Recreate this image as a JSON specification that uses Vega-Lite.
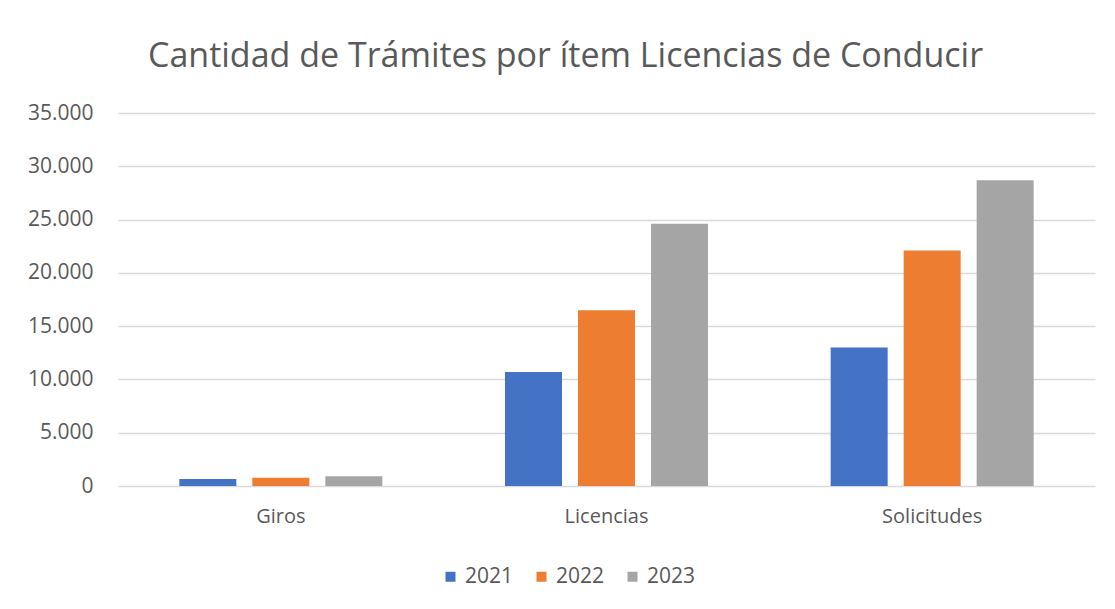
{
  "$schema": "https://vega.github.io/schema/vega-lite/v6.json",
  "autosize": {"type": "none"},
  "width": 977,
  "height": 373,
  "padding": {"left": 118, "top": 113, "right": 20, "bottom": 123},
  "background": "white",
  "title": {
    "text": "Cantidad de Trámites por ítem Licencias de Conducir",
    "font": "Open Sans",
    "fontSize": 34,
    "fontWeight": "normal",
    "color": "#595959",
    "anchor": "middle",
    "dx": -41,
    "offset": 28
  },
  "data": {
    "values": [
      {"item": "Giros", "anio": "2021", "cantidad": 650},
      {"item": "Giros", "anio": "2022", "cantidad": 780},
      {"item": "Giros", "anio": "2023", "cantidad": 920},
      {"item": "Licencias", "anio": "2021", "cantidad": 10700},
      {"item": "Licencias", "anio": "2022", "cantidad": 16500},
      {"item": "Licencias", "anio": "2023", "cantidad": 24600},
      {"item": "Solicitudes", "anio": "2021", "cantidad": 13000},
      {"item": "Solicitudes", "anio": "2022", "cantidad": 22100},
      {"item": "Solicitudes", "anio": "2023", "cantidad": 28700}
    ]
  },
  "mark": {"type": "bar"},
  "encoding": {
    "x": {
      "field": "item",
      "type": "nominal",
      "sort": ["Giros", "Licencias", "Solicitudes"],
      "scale": {"paddingInner": 0, "paddingOuter": 0},
      "axis": {
        "title": null,
        "labelAngle": 0,
        "labelFont": "Open Sans",
        "labelFontSize": 20,
        "labelColor": "#595959",
        "labelPadding": 20,
        "ticks": false,
        "domain": false,
        "grid": false
      }
    },
    "xOffset": {
      "field": "anio",
      "type": "nominal",
      "scale": {"paddingInner": 0.219, "paddingOuter": 0.84}
    },
    "y": {
      "field": "cantidad",
      "type": "quantitative",
      "scale": {"domain": [0, 35000], "nice": false},
      "axis": {
        "title": null,
        "values": [0, 5000, 10000, 15000, 20000, 25000, 30000, 35000],
        "format": ",d",
        "labelFont": "Open Sans",
        "labelFontSize": 21,
        "labelColor": "#595959",
        "labelPadding": 25,
        "ticks": false,
        "domain": false,
        "grid": true,
        "gridColor": "#d9d9d9",
        "gridWidth": 1.5
      }
    },
    "color": {
      "field": "anio",
      "type": "nominal",
      "scale": {"domain": ["2021", "2022", "2023"], "range": ["#4472C4", "#ED7D31", "#A5A5A5"]},
      "legend": {
        "title": null,
        "orient": "none",
        "legendX": 322,
        "legendY": 453,
        "direction": "horizontal",
        "symbolType": "square",
        "symbolSize": 100,
        "symbolStrokeWidth": 0,
        "labelFont": "Open Sans",
        "labelFontSize": 21,
        "labelColor": "#595959",
        "labelOffset": 4,
        "columnPadding": 17
      }
    }
  },
  "config": {
    "view": {"stroke": null},
    "locale": {
      "number": {"decimal": ",", "thousands": ".", "grouping": [3], "currency": ["$", ""]}
    }
  }
}
